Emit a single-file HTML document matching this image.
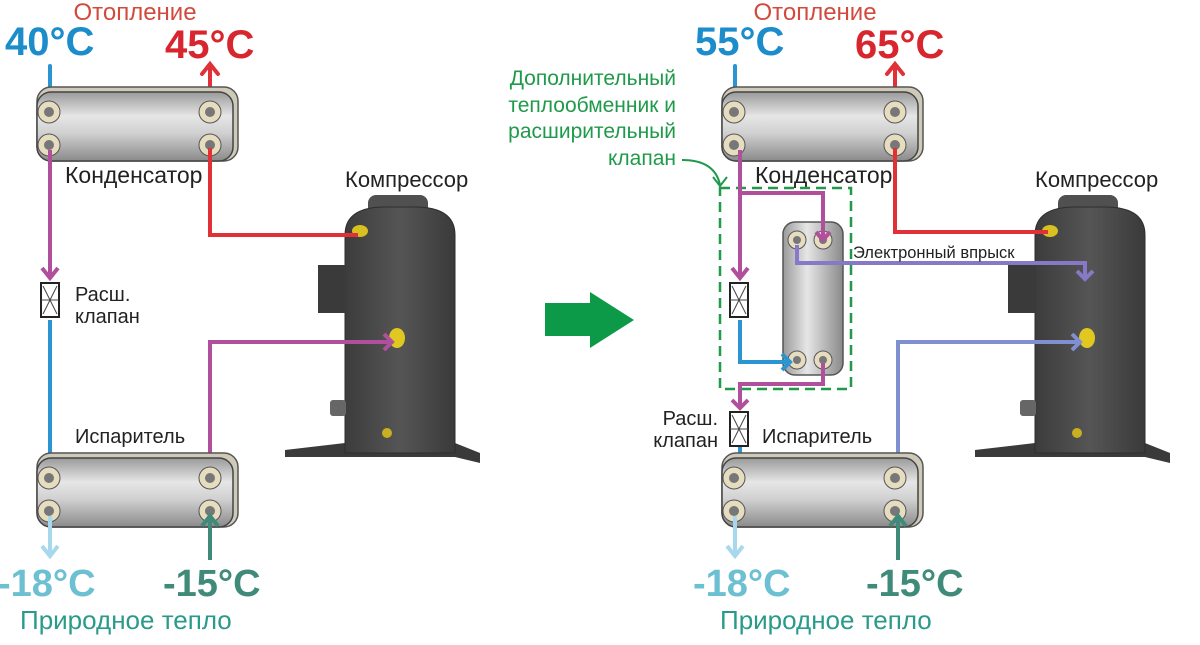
<!DOCTYPE html>
<html><head><meta charset="utf-8"><style>
html,body{margin:0;padding:0;background:#fff;width:1200px;height:645px;overflow:hidden}
svg{display:block}
text{font-family:"Liberation Sans","DejaVu Sans",sans-serif}
</style></head><body>
<svg width="1200" height="645" viewBox="0 0 1200 645" xmlns="http://www.w3.org/2000/svg">
<defs>
<linearGradient id="hx" x1="0" y1="0" x2="0" y2="1">
<stop offset="0" stop-color="#9a9a9a"/><stop offset="0.35" stop-color="#e6e6e6"/><stop offset="0.6" stop-color="#d0d0d0"/><stop offset="1" stop-color="#8a8a8a"/></linearGradient>
<linearGradient id="hxv" x1="0" y1="0" x2="1" y2="0">
<stop offset="0" stop-color="#9a9a9a"/><stop offset="0.4" stop-color="#e6e6e6"/><stop offset="1" stop-color="#8a8a8a"/></linearGradient>
<linearGradient id="cmp" x1="0" y1="0" x2="1" y2="0">
<stop offset="0" stop-color="#3c3c3c"/><stop offset="0.5" stop-color="#555"/><stop offset="1" stop-color="#3a3a3a"/></linearGradient>
<g id="hxh">
<rect x="0" y="0" width="201" height="74" rx="14" fill="#cfc9b8" stroke="#555" stroke-width="1.5"/>
<rect x="0" y="5" width="196" height="69" rx="14" fill="url(#hx)" stroke="#444" stroke-width="1.5"/>
<circle cx="12" cy="25" r="11" fill="#e6dcc0" stroke="#555"/><circle cx="12" cy="25" r="5" fill="#777"/>
<circle cx="173" cy="25" r="11" fill="#e6dcc0" stroke="#555"/><circle cx="173" cy="25" r="5" fill="#777"/>
<circle cx="12" cy="58" r="11" fill="#e6dcc0" stroke="#555"/><circle cx="12" cy="58" r="5" fill="#777"/>
<circle cx="173" cy="58" r="11" fill="#e6dcc0" stroke="#555"/><circle cx="173" cy="58" r="5" fill="#777"/>
</g>
<g id="comp">
<polygon points="-60,255 0,248 110,248 135,258 135,268 110,262 0,262 -60,262" fill="#3a3a3a"/>
<rect x="23" y="0" width="60" height="24" rx="8" fill="#505050"/>
<path d="M0,40 Q0,12 40,12 L70,12 Q110,12 110,40 L110,258 L0,258 Z" fill="url(#cmp)" stroke="#2e2e2e"/>
<rect x="-27" y="70" width="28" height="48" fill="#3a3a3a"/>
<rect x="-15" y="205" width="16" height="16" rx="3" fill="#666"/>
<ellipse cx="15" cy="36" rx="8" ry="6" fill="#d8c020"/>
<ellipse cx="52" cy="143" rx="8" ry="10" fill="#e0c820"/>
<circle cx="42" cy="238" r="5" fill="#c8b020"/>
</g>
<g id="valve"><rect x="0" y="0" width="18" height="34" fill="#fff" stroke="#222" stroke-width="2"/><path d="M2,3 L16,31 M16,3 L2,31 M0,17 L18,17" stroke="#444" stroke-width="1" fill="none"/></g>
</defs>

<!-- LEFT -->
<text x="135" y="20" font-size="24" fill="#d24a3e" text-anchor="middle">Отопление</text>
<text x="5" y="55" font-size="40" font-weight="bold" fill="#1c8ccb">40°C</text>
<text x="165" y="58" font-size="40" font-weight="bold" fill="#d8262e">45°C</text>
<g fill="none" stroke-width="4" stroke-linecap="round">
<path d="M50,66 L50,110 M42,100 L50,110 L58,100" stroke="#2a95d0"/>
<path d="M210,108 L210,65 M202,74 L210,64 L218,74" stroke="#e03038"/>
</g>
<use href="#hxh" x="37" y="87"/>
<use href="#comp" x="345" y="195"/>
<text x="65" y="183" font-size="23" fill="#222">Конденсатор</text>
<text x="345" y="187" font-size="22" fill="#222">Компрессор</text>
<g fill="none" stroke-width="4">
<path d="M210,148 L210,235 L358,235" stroke="#e03038"/>
<path d="M50,150 L50,278 M42,268 L50,278 L58,268" stroke="#b0509c"/>
<path d="M50,320 L50,475 M42,465 L50,475 L58,465" stroke="#2a95d0"/>
<path d="M210,478 L210,342 L392,342 M384,334 L392,342 L384,350" stroke="#b0509c"/>
</g>
<use href="#valve" x="41" y="283"/>
<text x="75" y="301" font-size="20" fill="#222">Расш.</text>
<text x="75" y="323" font-size="20" fill="#222">клапан</text>
<text x="75" y="443" font-size="20" fill="#222">Испаритель</text>
<use href="#hxh" x="37" y="453"/>
<g fill="none" stroke-width="4">
<path d="M50,516 L50,556 M42,546 L50,556 L58,546" stroke="#a8d8ee"/>
<path d="M210,560 L210,516 M202,526 L210,516 L218,526" stroke="#3f8a78"/>
</g>
<text x="-2" y="596" font-size="38" font-weight="bold" fill="#6cc0d2">-18°C</text>
<text x="163" y="596" font-size="38" font-weight="bold" fill="#3f8a78">-15°C</text>
<text x="20" y="629" font-size="26" fill="#2a9a8a">Природное тепло</text>

<!-- ARROW -->
<polygon points="545,303 590,303 590,292 634,320 590,348 590,336 545,336" fill="#0d9a48"/>

<!-- RIGHT -->
<text x="815" y="20" font-size="24" fill="#d24a3e" text-anchor="middle">Отопление</text>
<text x="695" y="55" font-size="40" font-weight="bold" fill="#1c8ccb">55°C</text>
<text x="855" y="58" font-size="40" font-weight="bold" fill="#d8262e">65°C</text>
<g font-size="21" fill="#1f9a4a" text-anchor="end">
<text x="676" y="85">Дополнительный</text>
<text x="676" y="112">теплообменник и</text>
<text x="676" y="138">расширительный</text>
<text x="676" y="165">клапан</text>
</g>
<path d="M682,160 Q715,160 720,185 M713,177 L720,186 L727,177" fill="none" stroke="#1f9a4a" stroke-width="2"/>
<g fill="none" stroke-width="4" stroke-linecap="round">
<path d="M735,66 L735,110 M727,100 L735,110 L743,100" stroke="#2a95d0"/>
<path d="M895,108 L895,65 M887,74 L895,64 L903,74" stroke="#e03038"/>
</g>
<use href="#hxh" x="722" y="87"/>
<use href="#comp" x="1035" y="195"/>
<text x="755" y="183" font-size="23" fill="#222">Конденсатор</text>
<text x="1035" y="187" font-size="22" fill="#222">Компрессор</text>
<rect x="720" y="188" width="131" height="201" fill="none" stroke="#1f9a4a" stroke-width="2.5" stroke-dasharray="10,6"/>
<!-- middle HX -->
<rect x="783" y="222" width="60" height="153" rx="12" fill="url(#hxv)" stroke="#555" stroke-width="1.5"/>
<g fill="#e6dcc0" stroke="#555"><circle cx="797" cy="240" r="9"/><circle cx="823" cy="240" r="9"/><circle cx="797" cy="360" r="9"/><circle cx="823" cy="360" r="9"/></g>
<g fill="#777"><circle cx="797" cy="240" r="4"/><circle cx="823" cy="240" r="4"/><circle cx="797" cy="360" r="4"/><circle cx="823" cy="360" r="4"/></g>
<g fill="none" stroke-width="4">
<path d="M895,148 L895,232 L1048,232" stroke="#e03038"/>
<path d="M740,150 L740,278 M732,268 L740,278 L748,268" stroke="#b0509c"/>
<path d="M740,193 L823,193 L823,240 M816,232 L823,240 L830,232" stroke="#b0509c"/>
<path d="M797,245 L797,263 L1085,263 L1085,278 M1077,271 L1085,279 L1093,271" stroke="#8878c8"/>
<path d="M740,320 L740,362 L790,362 M782,354 L790,362 L782,370" stroke="#2a95d0"/>
<path d="M823,363 L823,384 L740,384 L740,408 M732,400 L740,408 L748,400" stroke="#b0509c"/>
<path d="M740,447 L740,475 M732,465 L740,475 L748,465" stroke="#2a95d0"/>
<path d="M898,478 L898,342 L1080,342 M1072,334 L1080,342 L1072,350" stroke="#7f8fd0"/>
</g>
<use href="#valve" x="730" y="283"/>
<use href="#valve" x="730" y="412"/>
<text x="853" y="258" font-size="16.5" fill="#222">Электронный впрыск</text>
<text x="718" y="425" font-size="20" fill="#222" text-anchor="end">Расш.</text>
<text x="718" y="447" font-size="20" fill="#222" text-anchor="end">клапан</text>
<text x="762" y="443" font-size="20" fill="#222">Испаритель</text>
<use href="#hxh" x="722" y="453"/>
<g fill="none" stroke-width="4">
<path d="M735,516 L735,556 M727,546 L735,556 L743,546" stroke="#a8d8ee"/>
<path d="M898,560 L898,516 M890,526 L898,516 L906,526" stroke="#3f8a78"/>
</g>
<text x="693" y="596" font-size="38" font-weight="bold" fill="#6cc0d2">-18°C</text>
<text x="866" y="596" font-size="38" font-weight="bold" fill="#3f8a78">-15°C</text>
<text x="720" y="629" font-size="26" fill="#2a9a8a">Природное тепло</text>
</svg>
</body></html>
